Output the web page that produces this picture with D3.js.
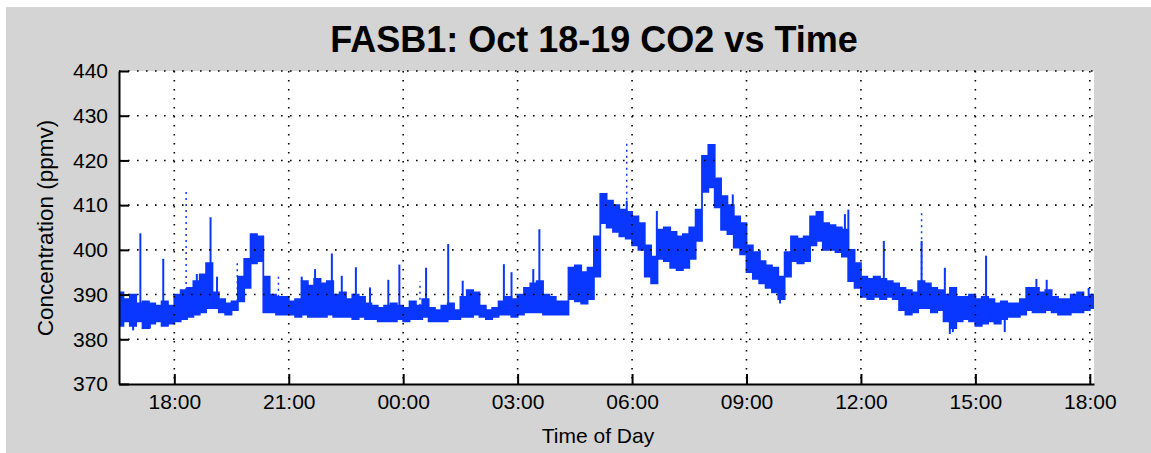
<!DOCTYPE html>
<head>
  <title>FASB1: Oct 18-19 CO2 vs Time</title>
  <style>
    body { margin: 0; background: #fff; }
    text { font-family: "Liberation Sans", Arial, Helvetica, sans-serif; fill: #000; }
  </style>
</head>

<body>
  <script src="https://cdn.jsdelivr.net/npm/d3@7"></script>
  <script>
    // 10-minute bins starting 16:30 on Oct 18 (hours past midnight Oct 18)
    var binStart = 16.5, binStep = 1 / 6;

    var co2Low = [
      383, 384, 383, 384, 382.5, 383.5, 384, 383, 383.5, 384,
      384.5, 385, 385.5, 386, 387, 387, 386, 385.5, 386.5, 388.5,
      391.5, 397, 397.5, 386, 386, 385.5, 385.5, 385.5, 385, 385.5,
      385, 385, 385, 385.5, 385, 385, 385, 384.5, 385, 384.5,
      384.5, 384, 384, 384, 384.5, 384, 384.5, 384.5, 385, 384,
      384, 384, 384.5, 384.5, 385, 385, 385.5, 385, 384.5, 385,
      385.5, 385.5, 385, 385.5, 386, 386, 386, 385.5, 385.5, 385.5,
      385.5, 389, 388.5, 388, 389, 394, 406, 405, 404, 403,
      402.5, 401, 400, 394, 392.5, 398, 397.5, 396, 395.5, 396,
      398, 402, 413, 414, 409.5, 404.5, 403.5, 400.5, 399, 395,
      393.5, 392.5, 391.5, 390.5, 389, 394, 397.5, 397, 397.5, 401,
      402, 400, 400, 399.5, 398.5, 393, 391.5, 389.5, 389, 389.5,
      389, 389.5, 389, 386.5, 385.5, 386, 387, 387, 386, 386.5,
      384, 382.5, 384, 384.5, 384, 383, 383.5, 384, 383.5, 384.5,
      385, 385, 385.5, 386.5, 386, 386, 386.5, 386, 385.5, 385.5,
      386, 386, 386.5, 387
    ];
    var co2High = [
      390.5, 389, 390, 388, 388.5, 388, 387.5, 388.5, 387.5, 390,
      391, 391.5, 393, 394.5, 397, 390.5, 389, 388, 388.5, 394,
      398, 403.5, 403, 394, 390, 389.5, 389.5, 388.5, 389, 393,
      392, 393.5, 392.5, 393, 390, 390.5, 389, 390, 389.5, 388,
      387.5, 387, 387.5, 388, 387.5, 387, 388.5, 387.5, 389, 387,
      386.5, 387.5, 388, 386.5, 389.5, 391, 390.5, 387.5, 386.5, 387,
      388.5, 389.5, 389, 390, 391.5, 392.5, 393, 390, 389.5, 388.5,
      388.5, 396, 396.5, 395, 396, 403, 412.5, 411, 410, 409,
      408.5, 407.5, 406, 401, 398.5, 404.5, 405, 404, 403, 403.5,
      405, 409, 421, 423.5, 416, 412, 410, 407.5, 406, 401,
      399.5, 397.5, 396.5, 396, 394, 399.5, 403, 402.5, 403, 407.5,
      408.5, 406, 405.5, 405, 404.5, 400, 397, 394, 393.5, 394,
      393.5, 393, 392.5, 391.5, 391, 390.5, 393, 392.5, 391.5, 391,
      390, 391.5, 389.5, 389.5, 390, 389, 389.5, 389, 388, 388.5,
      388, 388, 389, 391.5, 391.5, 390.5, 391, 389.5, 389, 389,
      390, 390.5, 389.5, 390
    ];

    // short excursions above the band
    var spikeHours = [17.11, 17.71, 18.59, 18.95, 19.12, 21.34, 21.69, 22.13, 22.39, 22.76,
                      23.13, 23.61, 23.90, 24.60, 25.18, 25.56, 26.64, 26.84, 27.41, 27.57,
                      29.86, 30.65, 32.64, 33.35, 35.58, 35.67, 36.60, 37.59, 38.20, 39.28,
                      40.60, 40.87, 41.97];
    var spikeTops = [403.7, 398, 394.6, 407.3, 394, 394, 395.7, 399.2, 394.2, 396.1,
                     391.6, 393.3, 396.7, 396, 401.3, 393.1, 396.8, 395, 395.7, 404.6,
                     411, 408.7, 412.4, 399.9, 408, 409, 402, 402, 396, 398.7,
                     393.5, 393.3, 391.5];
    // sparse (dotted) excursions
    var dotHours = [18.31, 19.65, 20.73, 24.44, 29.86, 37.59];
    var dotTops = [413.3, 397.3, 394.6, 393, 424.7, 409];
    // short excursions below the band
    var dipHours = [16.92, 17.36, 33.88, 38.33, 38.41, 39.77];
    var dipBottoms = [382, 382.4, 388, 381.2, 381.6, 381.6];

    var yTicks = [370, 380, 390, 400, 410, 420, 430, 440];
    var xTicks = [18, 21, 24, 27, 30, 33, 36, 39, 42];

    var W = 1151, H = 453;
    var plot = {left: 119, right: 1094, top: 71, bottom: 384};
    var blue = "#0a37ff";

    var svg = d3.select("body").append("svg")
      .attr("width", W)
      .attr("height", H);

    svg.append("rect").attr("x", 6).attr("y", 7)
      .attr("width", W - 6).attr("height", H - 7)
      .attr("fill", "#d4d4d4");
    svg.append("rect").attr("x", plot.left).attr("y", plot.top)
      .attr("width", plot.right - plot.left).attr("height", plot.bottom - plot.top)
      .attr("fill", "#fff");

    var x = d3.scaleLinear().domain([16.55, 42.11]).range([plot.left, plot.right]);
    var y = d3.scaleLinear().domain([370, 440]).range([plot.bottom, plot.top]);

    svg.append("clipPath").attr("id", "clip")
      .append("rect").attr("x", plot.left).attr("y", plot.top)
      .attr("width", plot.right - plot.left).attr("height", plot.bottom - plot.top);

    var bins = co2Low.map(function (lo, i) {
      return {t: binStart + i * binStep, lo: lo, hi: co2High[i]};
    });
    var last = bins[bins.length - 1];
    bins.push({t: last.t + binStep, lo: last.lo, hi: last.hi});

    function binAt(t) {
      var i = Math.max(0, Math.min(co2Low.length - 1, Math.floor((t - binStart) / binStep)));
      return bins[i];
    }

    var data = svg.append("g").attr("clip-path", "url(#clip)");

    var area = d3.area()
      .x(function (d) { return x(d.t); })
      .y0(function (d) { return y(d.lo); })
      .y1(function (d) { return y(d.hi); })
      .curve(d3.curveStepAfter);

    data.append("path")
      .attr("d", area(bins))
      .attr("fill", blue)
      .attr("stroke", blue)
      .attr("stroke-width", 1.8);

    data.selectAll(".spike").data(spikeHours).enter().append("line")
      .attr("x1", function (d) { return x(d); })
      .attr("x2", function (d) { return x(d); })
      .attr("y1", function (d) { return y(binAt(d).hi); })
      .attr("y2", function (d, i) { return y(spikeTops[i]); })
      .attr("stroke", blue).attr("stroke-width", 2);

    data.selectAll(".dots").data(dotHours).enter().append("line")
      .attr("x1", function (d) { return x(d); })
      .attr("x2", function (d) { return x(d); })
      .attr("y1", function (d) { return y(binAt(d).hi); })
      .attr("y2", function (d, i) { return y(dotTops[i]); })
      .attr("stroke", blue).attr("stroke-width", 1.5)
      .attr("stroke-dasharray", "2,4");

    data.selectAll(".dip").data(dipHours).enter().append("line")
      .attr("x1", function (d) { return x(d); })
      .attr("x2", function (d) { return x(d); })
      .attr("y1", function (d) { return y(binAt(d).lo); })
      .attr("y2", function (d, i) { return y(dipBottoms[i]); })
      .attr("stroke", blue).attr("stroke-width", 2);

    // dotted grid on top of the data
    var grid = svg.append("g");
    grid.selectAll(".hg").data(yTicks.slice(1)).enter().append("line")
      .attr("x1", plot.left).attr("x2", plot.right)
      .attr("y1", function (d) { return y(d); })
      .attr("y2", function (d) { return y(d); })
      .attr("stroke", "#000").attr("stroke-width", 1.6)
      .attr("stroke-dasharray", "1.6,7.4");
    grid.selectAll(".vg").data(xTicks).enter().append("line")
      .attr("x1", function (d) { return x(d); })
      .attr("x2", function (d) { return x(d); })
      .attr("y1", plot.top).attr("y2", plot.bottom)
      .attr("stroke", "#000").attr("stroke-width", 1.6)
      .attr("stroke-dasharray", "1.6,7.4");

    // axes
    var yAxis = svg.append("g")
      .attr("transform", "translate(" + plot.left + ",0)")
      .call(d3.axisLeft(y).tickValues(yTicks).tickSizeInner(-10).tickSizeOuter(0).tickPadding(11));
    var xAxis = svg.append("g")
      .attr("transform", "translate(0," + plot.bottom + ")")
      .call(d3.axisBottom(x).tickValues(xTicks).tickSizeInner(-10).tickSizeOuter(0).tickPadding(10)
        .tickFormat(function (d) { return d3.format("02d")(d % 24) + ":00"; }));

    [yAxis, xAxis].forEach(function (a) {
      a.select(".domain").attr("stroke", "#000").attr("stroke-width", 2);
      a.selectAll(".tick line").attr("stroke", "#000").attr("stroke-width", 2);
      a.selectAll(".tick text")
        .style("font-family", "'Liberation Sans', Arial, sans-serif")
        .style("font-size", "21px").attr("fill", "#000");
    });

    svg.append("text")
      .attr("x", 594).attr("y", 52)
      .attr("text-anchor", "middle")
      .style("font-size", "36px").style("font-weight", "bold")
      .text("FASB1: Oct 18-19 CO2 vs Time");

    svg.append("text")
      .attr("x", 598).attr("y", 443)
      .attr("text-anchor", "middle")
      .style("font-size", "21px")
      .text("Time of Day");

    svg.append("text")
      .attr("transform", "translate(53,228)rotate(-90)")
      .attr("text-anchor", "middle")
      .style("font-size", "22.5px")
      .text("Concentration (ppmv)");
  </script>
</body>
